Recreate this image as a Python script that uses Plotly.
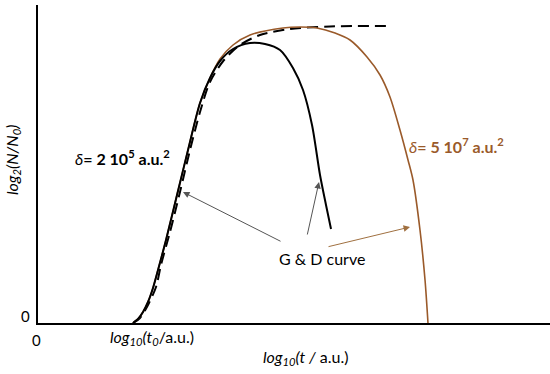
import plotly.graph_objects as go

# G & D curves (log10 t, log2 N/N0 in arbitrary units)
small_x = [1.855, 1.953, 2.051, 2.148, 2.246, 2.344, 2.500, 2.715, 2.930, 3.164,
           3.359, 3.555, 3.809, 4.141, 4.434, 4.727, 4.980, 5.176, 5.352, 5.508,
           5.625, 5.723]
small_y = [0.0, 0.126, 0.346, 0.660, 1.101, 1.667, 2.610, 4.025, 5.440, 6.918,
           7.704, 8.239, 8.616, 8.805, 8.774, 8.585, 8.019, 7.327, 6.226, 4.654,
           3.711, 2.956]

large_x = [1.855, 1.953, 2.051, 2.148, 2.246, 2.344, 2.500, 2.715, 2.930, 3.164,
           3.359, 3.555, 3.809, 4.141, 4.785, 5.117, 5.449, 5.801, 6.094, 6.426,
           6.680, 6.875, 7.070, 7.227, 7.324, 7.461, 7.559, 7.617]
large_y = [0.0, 0.126, 0.346, 0.660, 1.101, 1.667, 2.610, 4.025, 5.440, 6.918,
           7.704, 8.302, 8.742, 9.057, 9.277, 9.308, 9.277, 9.119, 8.899, 8.365,
           7.799, 7.107, 6.069, 5.126, 4.497, 2.925, 1.352, 0.0]

# growth without death (dashed)
free_x = [1.855, 1.992, 2.148, 2.305, 2.402, 2.578, 2.773, 2.969, 3.164, 3.359,
          3.633, 3.945, 4.336, 4.922, 5.703, 6.914]
free_y = [0.0, 0.157, 0.566, 1.132, 1.824, 2.862, 4.119, 5.440, 6.635, 7.579,
          8.270, 8.742, 9.057, 9.245, 9.324, 9.340]

BROWN = "#9a5a2a"
FONT = "Lato"

fig = go.Figure()

fig.add_trace(go.Scatter(x=free_x, y=free_y, mode="lines", line_shape="spline",
                         line=dict(color="black", width=2, dash="11px,6px", smoothing=0.8)))
fig.add_trace(go.Scatter(x=large_x, y=large_y, mode="lines", line_shape="spline",
                         line=dict(color=BROWN, width=1.6, smoothing=0.8)))
fig.add_trace(go.Scatter(x=small_x, y=small_y, mode="lines", line_shape="spline",
                         line=dict(color="black", width=2, smoothing=0.8)))

ann = [
    dict(x=1.641, y=5.22, text="<i>δ</i><b>= 2 10<sup>5</sup> a.u.<sup>2</sup></b>",
         font=dict(color="black", size=16)),
    dict(x=8.164, y=5.597, text="<i>δ</i><b>= 5 10<sup>7</sup> a.u.<sup>2</sup></b>",
         font=dict(color=BROWN, size=16)),
    dict(x=5.547, y=2.044, text="G &amp; D curve", font=dict(color="black", size=16)),
]
for a in ann:
    a.update(xref="x", yref="y", showarrow=False)

# arrows pointing from the label to the curves
arrows = [
    (2.832, 4.119, 4.766, 2.547, "#555555"),
    (5.488, 4.434, 5.254, 2.736, "#555555"),
    (7.266, 3.019, 5.645, 2.390, "#a07040"),
]
for hx, hy, tx, ty, c in arrows:
    ann.append(dict(x=hx, y=hy, ax=tx, ay=ty, xref="x", yref="y", axref="x", ayref="y",
                    text="", showarrow=True, arrowhead=2, arrowsize=1.3,
                    arrowwidth=1, arrowcolor=c))

# axis labels (positions in pixels, converted to paper units below)
ann += [
    dict(x=25, y=316, text="0"),
    dict(x=36, y=340, text="0"),
    dict(x=152, y=337, text="<i>log<sub>10</sub>(t<sub>0</sub></i>/a.u.)"),
    dict(x=305, y=357, text="<i>log<sub>10</sub>(t /</i> a.u.)"),
    dict(x=12, y=160, text="<i>log<sub>2</sub>(N/N<sub>0</sub>)</i>", textangle=-90),
]
for a in ann[-5:]:
    a.update(xref="paper", yref="paper", showarrow=False,
             font=dict(color="black", size=16 if a["text"] != "0" else 15))
    a["x"] = (a["x"] - 38) / 512
    a["y"] = (323 - a["y"]) / 318

for a in ann:
    if not a.get("showarrow"):
        a.update(xanchor="center", yanchor="middle")

fig.update_layout(
    width=550, height=374,
    margin=dict(l=38, r=0, t=5, b=51, autoexpand=False),
    paper_bgcolor="white", plot_bgcolor="white",
    showlegend=False,
    font=dict(family=FONT, size=14, color="black"),
    annotations=ann,
    xaxis=dict(range=[0, 10], showgrid=False, zeroline=False, showticklabels=False,
               showline=True, linecolor="black", linewidth=1.5, ticks=""),
    yaxis=dict(range=[0, 10], showgrid=False, zeroline=False, showticklabels=False,
               showline=True, linecolor="black", linewidth=1.5, ticks=""),
)

# drop the browser's default body margin so the figure sits at the page corner
fig.write_html("out.html", config={"displayModeBar": False},
               post_script="document.body.style.margin = '0';")
